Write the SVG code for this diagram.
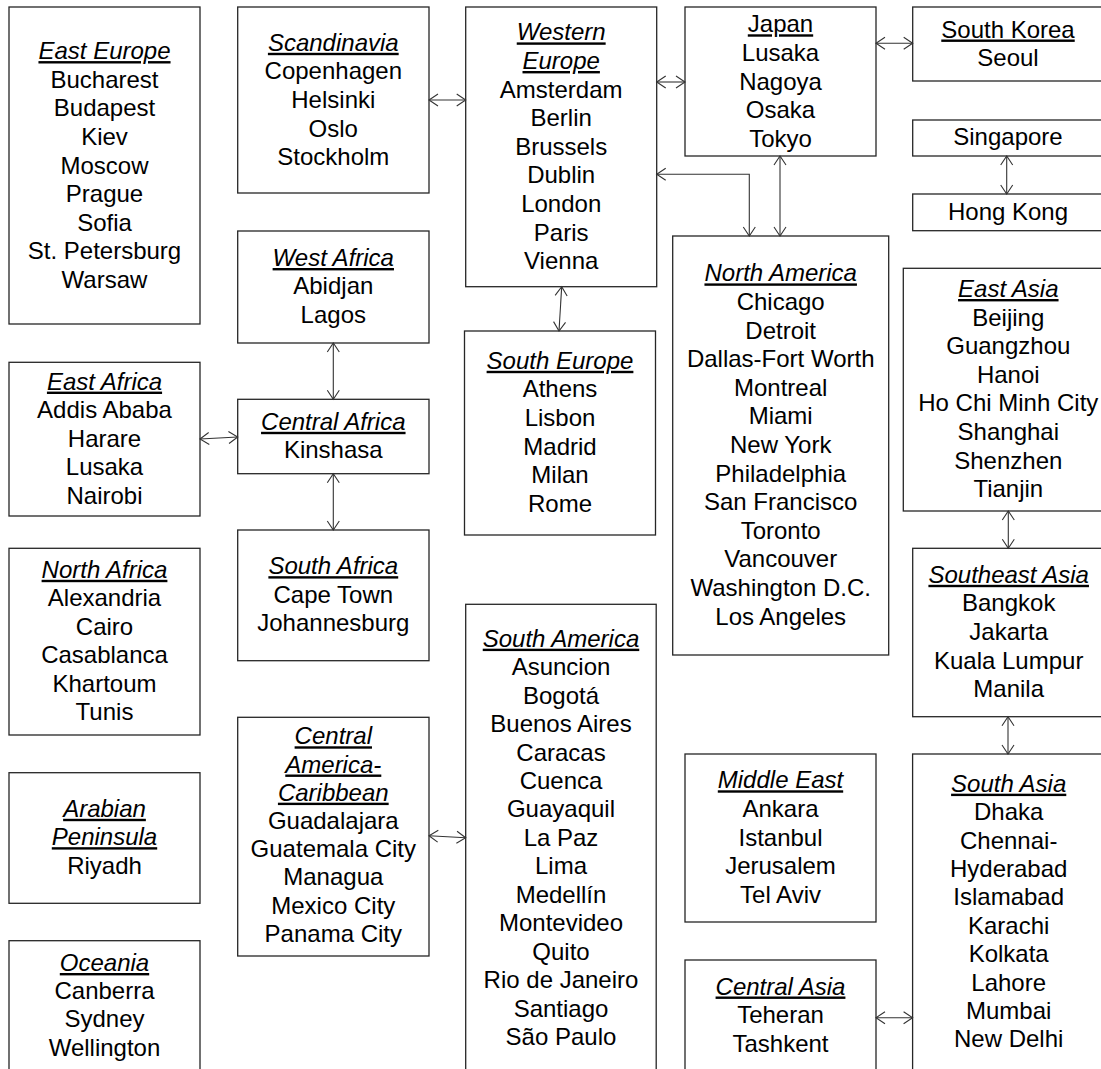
<svg xmlns="http://www.w3.org/2000/svg" width="1101" height="1069" viewBox="0 0 1101 1069">
<style>
.box{fill:#fff;stroke:#262626;stroke-width:1.3}
text{font-family:"Liberation Sans",Arial,sans-serif;font-size:24px;fill:#000;text-anchor:middle}
.h{font-style:italic;text-decoration:underline}
.u{text-decoration:underline}
.c{fill:none;stroke:#333;stroke-width:1.1;marker-start:url(#arr);marker-end:url(#arr)}
</style>
<defs>
<marker id="arr" markerWidth="12" markerHeight="14" refX="10" refY="7" orient="auto-start-reverse" markerUnits="userSpaceOnUse" viewBox="0 0 12 14">
<path d="M1,1 L10,7 L1,13" fill="none" stroke="#333" stroke-width="1.1"/>
</marker>
</defs>
<rect width="1101" height="1069" fill="#fff"/>

<g id="east-europe">
<rect class="box" x="9" y="7" width="191" height="317"/>
<text x="104.5" y="59.1" class="h">East Europe</text>
<text x="104.5" y="87.7">Bucharest</text>
<text x="104.5" y="116.3">Budapest</text>
<text x="104.5" y="144.9">Kiev</text>
<text x="104.5" y="173.5">Moscow</text>
<text x="104.5" y="202.1">Prague</text>
<text x="104.5" y="230.7">Sofia</text>
<text x="104.5" y="259.3">St. Petersburg</text>
<text x="104.5" y="287.9">Warsaw</text>
</g>

<g id="scandinavia">
<rect class="box" x="237.7" y="7" width="191.3" height="186"/>
<text x="333.3" y="50.8" class="h">Scandinavia</text>
<text x="333.3" y="79.4">Copenhagen</text>
<text x="333.3" y="108">Helsinki</text>
<text x="333.3" y="136.6">Oslo</text>
<text x="333.3" y="165.2">Stockholm</text>
</g>

<g id="western-europe">
<rect class="box" x="465.7" y="7" width="191" height="279.7"/>
<text x="561.2" y="40.4" class="h">Western</text>
<text x="561.2" y="69" class="h">Europe</text>
<text x="561.2" y="97.6">Amsterdam</text>
<text x="561.2" y="126.2">Berlin</text>
<text x="561.2" y="154.8">Brussels</text>
<text x="561.2" y="183.4">Dublin</text>
<text x="561.2" y="212">London</text>
<text x="561.2" y="240.6">Paris</text>
<text x="561.2" y="269.2">Vienna</text>
</g>

<g id="japan">
<rect class="box" x="685" y="7" width="191" height="149"/>
<text x="780.5" y="32.3" class="u">Japan</text>
<text x="780.5" y="60.9">Lusaka</text>
<text x="780.5" y="89.5">Nagoya</text>
<text x="780.5" y="118.1">Osaka</text>
<text x="780.5" y="146.7">Tokyo</text>
</g>

<g id="south-korea">
<rect class="box" x="912.7" y="7" width="191" height="74"/>
<text x="1008" y="37.5" class="u">South Korea</text>
<text x="1008" y="66">Seoul</text>
</g>

<g id="singapore">
<rect class="box" x="912.7" y="120" width="191" height="36"/>
<text x="1008" y="145">Singapore</text>
</g>

<g id="hong-kong">
<rect class="box" x="912.7" y="194" width="191" height="36.7"/>
<text x="1008" y="219.5">Hong Kong</text>
</g>

<g id="north-america">
<rect class="box" x="672.7" y="236" width="216" height="419"/>
<text x="780.7" y="281.4" class="h">North America</text>
<text x="780.7" y="310">Chicago</text>
<text x="780.7" y="338.6">Detroit</text>
<text x="780.7" y="367.2">Dallas-Fort Worth</text>
<text x="780.7" y="395.8">Montreal</text>
<text x="780.7" y="424.4">Miami</text>
<text x="780.7" y="453">New York</text>
<text x="780.7" y="481.6">Philadelphia</text>
<text x="780.7" y="510.2">San Francisco</text>
<text x="780.7" y="538.8">Toronto</text>
<text x="780.7" y="567.4">Vancouver</text>
<text x="780.7" y="596">Washington D.C.</text>
<text x="780.7" y="624.6">Los Angeles</text>
</g>

<g id="east-asia">
<rect class="box" x="903.3" y="268.3" width="210" height="242.7"/>
<text x="1008.3" y="297" class="h">East Asia</text>
<text x="1008.3" y="325.6">Beijing</text>
<text x="1008.3" y="354.2">Guangzhou</text>
<text x="1008.3" y="382.8">Hanoi</text>
<text x="1008.3" y="411.4">Ho Chi Minh City</text>
<text x="1008.3" y="440">Shanghai</text>
<text x="1008.3" y="468.6">Shenzhen</text>
<text x="1008.3" y="497.2">Tianjin</text>
</g>

<g id="southeast-asia">
<rect class="box" x="912.7" y="548.3" width="192" height="168.4"/>
<text x="1008.7" y="582.8" class="h">Southeast Asia</text>
<text x="1008.7" y="611.4">Bangkok</text>
<text x="1008.7" y="640">Jakarta</text>
<text x="1008.7" y="668.6">Kuala Lumpur</text>
<text x="1008.7" y="697.2">Manila</text>
</g>

<g id="south-asia">
<rect class="box" x="912.6" y="754" width="192" height="330"/>
<text x="1008.7" y="791.7" class="h">South Asia</text>
<text x="1008.7" y="820.1">Dhaka</text>
<text x="1008.7" y="848.5">Chennai-</text>
<text x="1008.7" y="876.9">Hyderabad</text>
<text x="1008.7" y="905.3">Islamabad</text>
<text x="1008.7" y="933.7">Karachi</text>
<text x="1008.7" y="962.1">Kolkata</text>
<text x="1008.7" y="990.5">Lahore</text>
<text x="1008.7" y="1018.9">Mumbai</text>
<text x="1008.7" y="1047.3">New Delhi</text>
</g>

<g id="west-africa">
<rect class="box" x="237.7" y="231" width="191.3" height="112"/>
<text x="333.3" y="266" class="h">West Africa</text>
<text x="333.3" y="294.3">Abidjan</text>
<text x="333.3" y="322.6">Lagos</text>
</g>

<g id="east-africa">
<rect class="box" x="9" y="362.3" width="191" height="153.7"/>
<text x="104.5" y="389.6" class="h">East Africa</text>
<text x="104.5" y="418.1">Addis Ababa</text>
<text x="104.5" y="446.6">Harare</text>
<text x="104.5" y="475.1">Lusaka</text>
<text x="104.5" y="503.6">Nairobi</text>
</g>

<g id="central-africa">
<rect class="box" x="237.7" y="399.3" width="191.3" height="74.4"/>
<text x="333.3" y="429.8" class="h">Central Africa</text>
<text x="333.3" y="458">Kinshasa</text>
</g>

<g id="south-africa">
<rect class="box" x="237.7" y="530" width="191.3" height="130.7"/>
<text x="333.3" y="574.2" class="h">South Africa</text>
<text x="333.3" y="602.6">Cape Town</text>
<text x="333.3" y="631">Johannesburg</text>
</g>

<g id="north-africa">
<rect class="box" x="9" y="548.3" width="191" height="186.7"/>
<text x="104.5" y="577.8" class="h">North Africa</text>
<text x="104.5" y="606.3">Alexandria</text>
<text x="104.5" y="634.8">Cairo</text>
<text x="104.5" y="663.3">Casablanca</text>
<text x="104.5" y="691.8">Khartoum</text>
<text x="104.5" y="720.3">Tunis</text>
</g>

<g id="arabian-peninsula">
<rect class="box" x="9" y="772.7" width="191" height="130.6"/>
<text x="104.5" y="816.8" class="h">Arabian</text>
<text x="104.5" y="845.2" class="h">Peninsula</text>
<text x="104.5" y="873.6">Riyadh</text>
</g>

<g id="oceania">
<rect class="box" x="9" y="940.7" width="191" height="140"/>
<text x="104.5" y="971" class="h">Oceania</text>
<text x="104.5" y="999.2">Canberra</text>
<text x="104.5" y="1027.4">Sydney</text>
<text x="104.5" y="1055.6">Wellington</text>
</g>

<g id="south-europe">
<rect class="box" x="464.5" y="331" width="191" height="204"/>
<text x="560" y="368.8" class="h">South Europe</text>
<text x="560" y="397.4">Athens</text>
<text x="560" y="426">Lisbon</text>
<text x="560" y="454.6">Madrid</text>
<text x="560" y="483.2">Milan</text>
<text x="560" y="511.8">Rome</text>
</g>

<g id="central-america-caribbean">
<rect class="box" x="237.7" y="717.3" width="191.3" height="238.7"/>
<text x="333.3" y="744.3" class="h">Central</text>
<text x="333.3" y="772.5" class="h">America-</text>
<text x="333.3" y="800.7" class="h">Caribbean</text>
<text x="333.3" y="828.9">Guadalajara</text>
<text x="333.3" y="857.1">Guatemala City</text>
<text x="333.3" y="885.3">Managua</text>
<text x="333.3" y="913.5">Mexico City</text>
<text x="333.3" y="941.7">Panama City</text>
</g>

<g id="south-america">
<rect class="box" x="465.7" y="604.3" width="190.5" height="480"/>
<text x="561" y="646.7" class="h">South America</text>
<text x="561" y="675.15">Asuncion</text>
<text x="561" y="703.6">Bogotá</text>
<text x="561" y="732.05">Buenos Aires</text>
<text x="561" y="760.5">Caracas</text>
<text x="561" y="788.95">Cuenca</text>
<text x="561" y="817.4">Guayaquil</text>
<text x="561" y="845.85">La Paz</text>
<text x="561" y="874.3">Lima</text>
<text x="561" y="902.75">Medellín</text>
<text x="561" y="931.2">Montevideo</text>
<text x="561" y="959.65">Quito</text>
<text x="561" y="988.1">Rio de Janeiro</text>
<text x="561" y="1016.55">Santiago</text>
<text x="561" y="1045">São Paulo</text>
</g>

<g id="middle-east">
<rect class="box" x="685" y="754" width="191" height="168"/>
<text x="780.5" y="788.3" class="h">Middle East</text>
<text x="780.5" y="816.9">Ankara</text>
<text x="780.5" y="845.5">Istanbul</text>
<text x="780.5" y="874.1">Jerusalem</text>
<text x="780.5" y="902.7">Tel Aviv</text>
</g>

<g id="central-asia">
<rect class="box" x="685" y="960" width="191" height="130"/>
<text x="780.5" y="994.5" class="h">Central Asia</text>
<text x="780.5" y="1023">Teheran</text>
<text x="780.5" y="1051.5">Tashkent</text>
</g>

<g id="connectors">
<path class="c" d="M429,100 L465.7,100"/>
<path class="c" d="M656.7,82 L685,82"/>
<path class="c" d="M876,43.3 L912.7,43.3"/>
<path class="c" d="M780,156 L780,236"/>
<path class="c" d="M749.3,236 L749.3,174.3 L656.7,174.3"/>
<path class="c" d="M561.7,286.7 L559,331"/>
<path class="c" d="M1006.7,156 L1006.7,194"/>
<path class="c" d="M1008.3,511 L1008.3,548.3"/>
<path class="c" d="M1008,716.7 L1008,754"/>
<path class="c" d="M876,1017.7 L912.6,1017.7"/>
<path class="c" d="M333.3,343 L333.3,399.3"/>
<path class="c" d="M333.3,473.7 L333.3,530"/>
<path class="c" d="M200,439 L237.7,437"/>
<path class="c" d="M429,835.7 L465.7,837.7"/>
</g>
</svg>
